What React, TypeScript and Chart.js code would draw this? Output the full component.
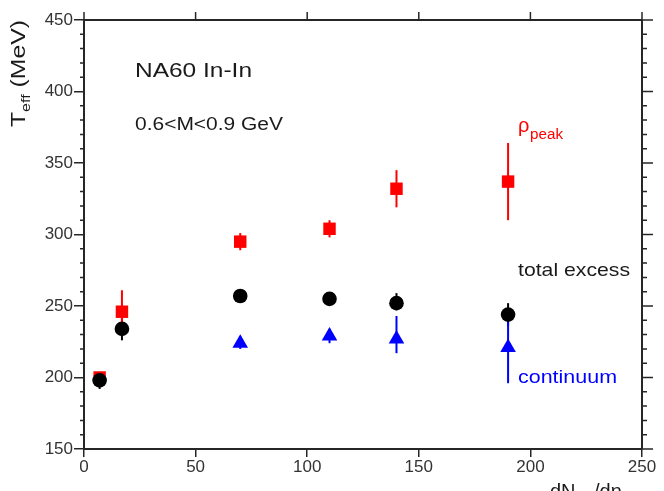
import React, { useEffect, useRef } from "react";
import { Chart, registerables } from "chart.js";

Chart.register(...registerables);

// ---- data ----
const xMin = 0;
const xMax = 250;
const xStep = 50;
const yMin = 150;
const yMax = 450;
const yStep = 50;
const yMinorStep = 10;

const rhoX = [7, 17, 70, 110, 140, 190];
const rhoY = [200, 246, 295, 304, 332, 337];
const rhoErrUp = [3, 15, 6, 6, 13, 27];
const rhoErrDown = [3, 10, 6, 6, 13, 27];

const totalX = [7, 17, 70, 110, 140, 190];
const totalY = [198, 234, 257, 255, 252, 244];
const totalErrUp = [6, 8, 3, 3, 7, 8];
const totalErrDown = [6, 8, 3, 3, 5, 8];

const contX = [70, 110, 140, 190];
const contY = [224, 229, 227, 221];
const contErrUp = [5, 5, 16, 20];
const contErrDown = [4, 5, 10, 25];

const FONT = "'Liberation Sans', Arial, Helvetica, sans-serif";
const RED = "#ff0000";
const BLUE = "#0000ff";
const BLACK = "#000000";
const AXIS = "#262626";

function pts(xs: number[], ys: number[]) {
  return xs.map((x, i) => ({ x, y: ys[i] }));
}

// draw text horizontally scaled to fit a target width
function stretchText(
  ctx: CanvasRenderingContext2D,
  text: string,
  x: number,
  y: number,
  size: number,
  color: string,
  width?: number
) {
  ctx.save();
  ctx.font = `${size}px ${FONT}`;
  ctx.fillStyle = color;
  ctx.textBaseline = "alphabetic";
  ctx.textAlign = "left";
  const w = ctx.measureText(text).width;
  const sx = width ? width / w : 1;
  ctx.translate(x, y);
  ctx.scale(sx, 1);
  ctx.fillText(text, 0, 0);
  ctx.restore();
  return w * sx;
}

const errorBarPlugin = {
  id: "errorBars",
  beforeDatasetsDraw(chart: any) {
    const ctx = chart.ctx as CanvasRenderingContext2D;
    const xs = chart.scales.x;
    const ys = chart.scales.y;
    chart.data.datasets.forEach((ds: any) => {
      const up: number[] = ds.errUp || [];
      const down: number[] = ds.errDown || [];
      ctx.save();
      ctx.strokeStyle = ds.borderColor;
      ctx.lineWidth = 2;
      ds.data.forEach((p: any, i: number) => {
        const px = xs.getPixelForValue(p.x);
        const y1 = ys.getPixelForValue(p.y + (up[i] || 0));
        const y2 = ys.getPixelForValue(p.y - (down[i] || 0));
        ctx.beginPath();
        ctx.moveTo(px, y1);
        ctx.lineTo(px, y2);
        ctx.stroke();
      });
      ctx.restore();
    });
  },
};

const framePlugin = {
  id: "frame",
  afterDraw(chart: any) {
    const ctx = chart.ctx as CanvasRenderingContext2D;
    const { left, right, top, bottom } = chart.chartArea;
    const xs = chart.scales.x;
    const ys = chart.scales.y;
    ctx.save();
    ctx.strokeStyle = AXIS;
    ctx.lineWidth = 2;
    // right and top frame lines
    ctx.beginPath();
    ctx.moveTo(left, top);
    ctx.lineTo(right, top);
    ctx.moveTo(right, top);
    ctx.lineTo(right, bottom);
    ctx.stroke();
    ctx.lineWidth = 1.5;
    // y ticks (left minor, right major + minor)
    for (let v = yMin; v <= yMax + 1e-9; v += yMinorStep) {
      const py = ys.getPixelForValue(v);
      const major = Math.abs(v % yStep) < 1e-9;
      ctx.beginPath();
      if (!major) {
        ctx.moveTo(left - 4, py);
        ctx.lineTo(left, py);
      }
      ctx.moveTo(right, py);
      ctx.lineTo(right + (major ? 11 : 5), py);
      ctx.stroke();
    }
    // top ticks
    for (let v = xMin; v <= xMax + 1e-9; v += xStep) {
      const px = xs.getPixelForValue(v);
      ctx.beginPath();
      ctx.moveTo(px, top);
      ctx.lineTo(px, top - 8);
      ctx.stroke();
    }
    ctx.restore();

    // annotations
    stretchText(ctx, "NA60 In-In", 135, 77, 20, "#1a1a1a", 117);
    stretchText(ctx, "0.6<M<0.9 GeV", 135, 130, 18, "#1a1a1a", 148);
    stretchText(ctx, "ρ", 518, 132, 20, RED);
    stretchText(ctx, "peak", 530, 139, 14, RED, 33);
    stretchText(ctx, "total excess", 518, 276, 19, "#1a1a1a", 112);
    stretchText(ctx, "continuum", 518, 383, 19, BLUE, 99);

    // y axis title (rotated)
    ctx.save();
    ctx.translate(25, 127);
    ctx.rotate(-Math.PI / 2);
    ctx.fillStyle = "#1a1a1a";
    ctx.textBaseline = "alphabetic";
    ctx.font = `20px ${FONT}`;
    const wT = ctx.measureText("T").width;
    ctx.font = `13px ${FONT}`;
    const wSub = ctx.measureText("eff").width;
    ctx.font = `20px ${FONT}`;
    const wRest = ctx.measureText(" (MeV)").width;
    const total = wT + wSub + wRest;
    ctx.scale(107 / total, 1);
    ctx.font = `20px ${FONT}`;
    ctx.fillText("T", 0, 0);
    ctx.font = `13px ${FONT}`;
    ctx.fillText("eff", wT, 5);
    ctx.font = `20px ${FONT}`;
    ctx.fillText(" (MeV)", wT + wSub, 0);
    ctx.restore();

    // x axis title (partly cut off at the bottom)
    ctx.save();
    ctx.fillStyle = "#1a1a1a";
    ctx.font = `20px ${FONT}`;
    ctx.fillText("dN", 550, 498);
    ctx.font = `13px ${FONT}`;
    ctx.fillText("ch", 576, 503);
    ctx.font = `20px ${FONT}`;
    ctx.fillText("/dη", 594, 498);
    ctx.restore();
  },
};

export default function App() {
  const ref = useRef<HTMLCanvasElement | null>(null);

  useEffect(() => {
    if (!ref.current) return;
    const chart = new Chart(ref.current, {
      type: "scatter",
      data: {
        datasets: [
          {
            label: "total excess",
            data: pts(totalX, totalY),
            errUp: totalErrUp,
            errDown: totalErrDown,
            pointStyle: "circle",
            pointRadius: 7.3,
            backgroundColor: BLACK,
            borderColor: BLACK,
            borderWidth: 0,
          } as any,
          {
            label: "rho peak",
            data: pts(rhoX, rhoY),
            errUp: rhoErrUp,
            errDown: rhoErrDown,
            pointStyle: "rect",
            pointRadius: 8.8,
            backgroundColor: RED,
            borderColor: RED,
            borderWidth: 0,
          } as any,
          {
            label: "continuum",
            data: pts(contX, contY),
            errUp: contErrUp,
            errDown: contErrDown,
            pointStyle: "triangle",
            pointRadius: 9,
            backgroundColor: BLUE,
            borderColor: BLUE,
            borderWidth: 0,
          } as any,
        ],
      },
      options: {
        animation: false,
        responsive: true,
        maintainAspectRatio: false,
        layout: { padding: { left: 0, right: 22, top: 20, bottom: 0 } },
        plugins: {
          legend: { display: false },
          tooltip: { enabled: false },
          title: { display: false },
        },
        scales: {
          x: {
            type: "linear",
            position: "bottom",
            min: xMin,
            max: xMax,
            ticks: {
              stepSize: xStep,
              font: { family: FONT, size: 17 },
              color: "#333",
              padding: 0,
              maxRotation: 0,
            },
            grid: {
              drawOnChartArea: false,
              drawTicks: true,
              tickLength: 8,
              color: AXIS,
              lineWidth: 1.5,
            },
            border: { display: true, color: AXIS, width: 2 },
            afterFit: (s: any) => {
              s.height = 42;
            },
          },
          y: {
            type: "linear",
            position: "left",
            min: yMin,
            max: yMax,
            ticks: {
              stepSize: yStep,
              font: { family: FONT, size: 17 },
              color: "#333",
              padding: 1,
            },
            grid: {
              drawOnChartArea: false,
              drawTicks: true,
              tickLength: 10,
              color: AXIS,
              lineWidth: 1.5,
            },
            border: { display: true, color: AXIS, width: 2 },
            afterFit: (s: any) => {
              s.width = 84;
            },
          },
        },
      } as any,
      plugins: [errorBarPlugin, framePlugin],
    });
    return () => chart.destroy();
  }, []);

  return (
    <div
      style={{
        position: "fixed",
        left: 0,
        top: 0,
        width: 664,
        height: 491,
        background: "#fff",
      }}
    >
      <canvas ref={ref} />
    </div>
  );
}
